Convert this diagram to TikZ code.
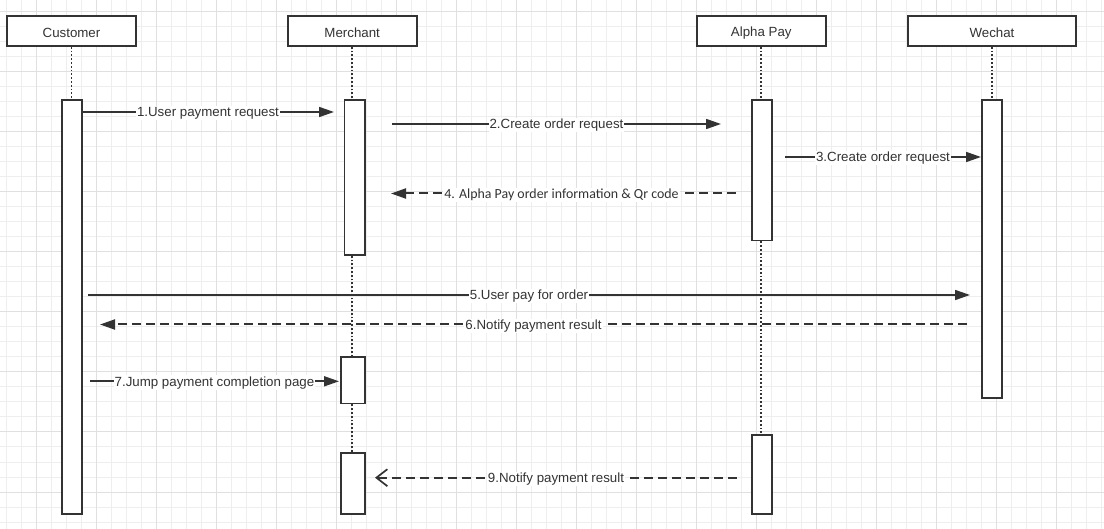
\documentclass[tikz,border=0pt]{standalone}
\usepackage{fontspec}
\setmainfont{Liberation Sans}
\newfontfamily\calfont{Carlito}
\usetikzlibrary{arrows.meta}
\definecolor{ink}{HTML}{333333}
\definecolor{gridminor}{HTML}{EEEEEE}
\definecolor{gridmajor}{HTML}{E0E0E0}
\newcommand{\actortext}[1]{\raisebox{-1.6pt}[\height][\depth]{#1}}
\begin{document}
\begin{tikzpicture}[x=1pt,y=-1pt,
  actor/.style={draw=ink, line width=1.8pt, fill=white, minimum height=30pt, inner sep=0pt,
    font=\fontsize{13.3}{16}\selectfont, text=ink},
  bar/.style={draw=ink, line width=1.8pt, fill=white, inner sep=0pt},
  life/.style={draw=ink, line width=1.8pt, dash pattern=on 1.8pt off 2pt},
  msg/.style={draw=ink, line width=1.7pt, -{Triangle[length=15pt,width=10pt]}},
  ret/.style={draw=ink, line width=2pt, dash pattern=on 9pt off 5pt, -{Triangle[length=15pt,width=10pt]}},
  async/.style={draw=ink, line width=2pt, dash pattern=on 9pt off 5pt,
    -{Straight Barb[length=11pt,width=17pt,line width=1.7pt]}},
  lbl/.style={fill=white, inner sep=1pt, text=ink, yshift=-1.3pt, font=\fontsize{13.3}{16}\selectfont},
  lblc/.style={fill=white, inner sep=1pt, text=ink, yshift=-1.3pt, font=\calfont\fontsize{13.9}{16}\selectfont}
]
\useasboundingbox (0,0) rectangle (1104,529);
\fill[white] (0,0) rectangle (1104,529);
% grid
\foreach \i in {0,...,73} {\draw[gridminor, line width=1pt] (6.7+15*\i,0) -- (6.7+15*\i,529);}
\foreach \j in {0,...,34} {\draw[gridminor, line width=1pt] (0,12+15*\j) -- (1104,12+15*\j);}
\foreach \i in {0,...,18} {\draw[gridmajor, line width=1pt] (36.7+60*\i,0) -- (36.7+60*\i,529);}
\foreach \j in {0,...,8} {\draw[gridmajor, line width=1pt] (0,12+60*\j) -- (1104,12+60*\j);}

% actors
\node[actor, minimum width=129pt] (cust) at (71.5,31) {\actortext{Customer}};
\node[actor, minimum width=129pt] (merch) at (352.2,31) {\actortext{Merchant}};
\node[actor, minimum width=129pt] (alpha) at (761.3,31) {\actortext{Alpha Pay}};
\node[actor, minimum width=168pt] (wechat) at (992,31) {\actortext{Wechat}};

% activation bars
\node[bar, minimum width=20pt, minimum height=414pt] (cbar) at (72,307) {};
\node[bar, minimum width=20.5pt, minimum height=155pt] (mbar1) at (354.75,177.5) {};
\node[bar, minimum width=24pt, minimum height=46.5pt] (mbar2) at (353,380.25) {};
\node[bar, minimum width=24pt, minimum height=60.7pt] (mbar3) at (353,483.3) {};
\node[bar, minimum width=20pt, minimum height=140.5pt] (abar1) at (762,170.25) {};
\node[bar, minimum width=20pt, minimum height=78.7pt] (abar2) at (762,474.3) {};
\node[bar, minimum width=20pt, minimum height=298pt] (wbar) at (992,249) {};

% lifelines
\draw[life] (cust.south) -- (cust.south |- cbar.north);
\draw[life] (merch.south) -- (merch.south |- mbar1.north);
\draw[life] (merch.south |- mbar1.south) -- (merch.south |- mbar2.north);
\draw[life] (merch.south |- mbar2.south) -- (merch.south |- mbar3.north);
\draw[life] (alpha.south) -- (alpha.south |- abar1.north);
\draw[life] (alpha.south |- abar1.south) -- (alpha.south |- abar2.north);
\draw[life] (wechat.south) -- (wechat.south |- wbar.north);

% message end points
\coordinate (m1s) at (82,112);   \coordinate (m1e) at (334,112);
\coordinate (m2s) at (392,124);  \coordinate (m2e) at (721,124);
\coordinate (m3s) at (785,157);  \coordinate (m3e) at (981,157);
\coordinate (m4s) at (736,193.5);\coordinate (m4e) at (391,193.5);
\coordinate (m5s) at (88,295);   \coordinate (m5e) at (970,295);
\coordinate (m6s) at (967,324.5);\coordinate (m6e) at (100,324.5);
\coordinate (m7s) at (90,381.3); \coordinate (m7e) at (339,381.3);
\coordinate (m9s) at (737,477.7);\coordinate (m9e) at (375,477.7);

% messages
\draw[msg] (m1s) -- node[lbl] {1.User payment request} (m1e);
\draw[msg] (m2s) -- node[lbl] {2.Create order request} (m2e);
\draw[msg] (m3s) -- node[lbl] {3.Create order request} (m3e);
\draw[ret] (m4s) -- node[lblc, xshift=-2pt] {4. Alpha Pay order information \& Qr code\hspace{6pt}} (m4e);
\draw[msg] (m5s) -- node[lbl] {5.User pay for order} (m5e);
\draw[ret] (m6s) -- node[lbl] {6.Notify payment result} (m6e);
\draw[msg] (m7s) -- node[lbl] {7.Jump payment completion page} (m7e);
\draw[async] (m9s) -- node[lbl] {9.Notify payment result} (m9e);
\end{tikzpicture}
\end{document}
